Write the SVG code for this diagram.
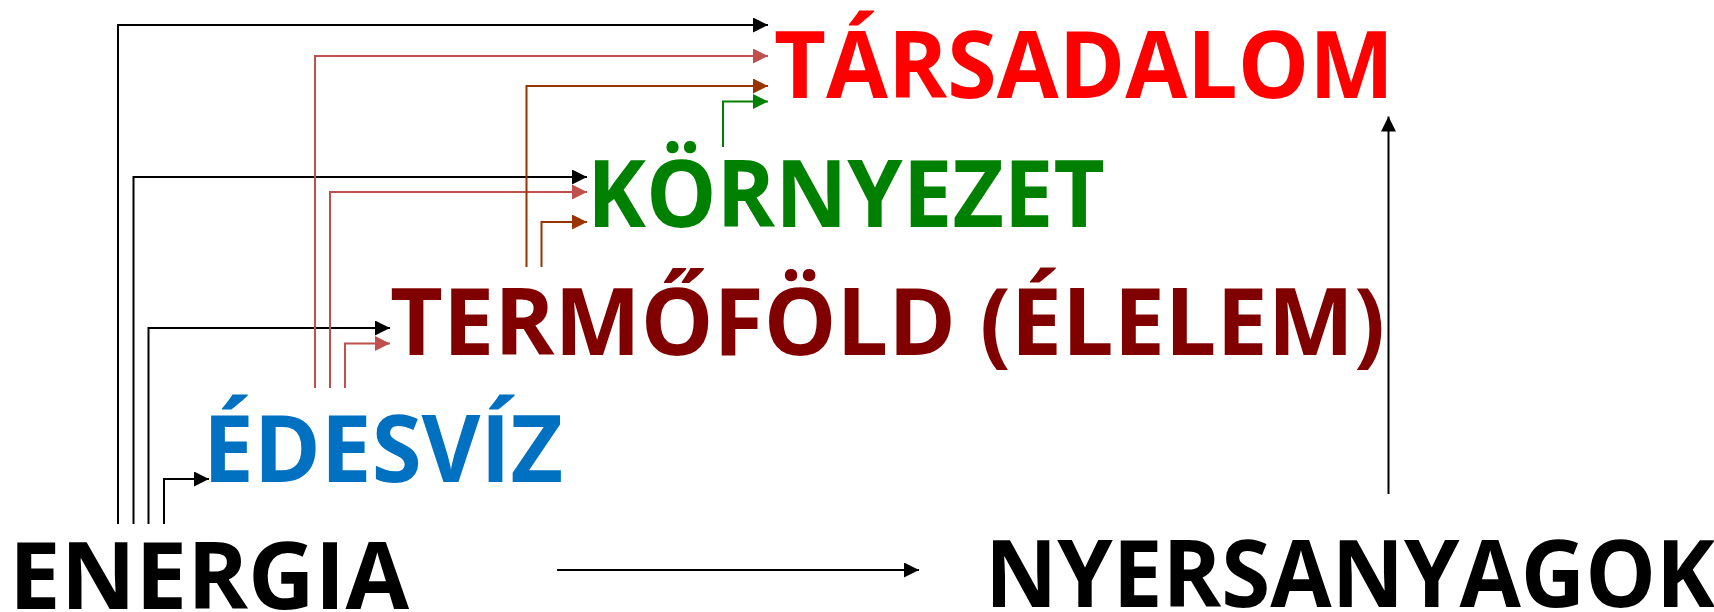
<svg xmlns="http://www.w3.org/2000/svg" width="1714" height="612" viewBox="0 0 1714 612">
  <style>
    .lbl { font-family: "Open Sans", "Noto Sans", "Liberation Sans", sans-serif; font-weight: 700; font-size: 94px; }
    .c { fill: none; stroke-width: 2; }
    .k { stroke: #000000; }
    .p { stroke: #C0504D; }
    .b { stroke: #993300; }
    .g { stroke: #008000; }
  </style>
  <defs>
    <marker id="ak" markerUnits="userSpaceOnUse" markerWidth="15" markerHeight="15" refX="15" refY="7.5" orient="auto"><path d="M0,0 L15,7.5 L0,15 Z" fill="#000000"/></marker>
    <marker id="ap" markerUnits="userSpaceOnUse" markerWidth="15" markerHeight="15" refX="15" refY="7.5" orient="auto"><path d="M0,0 L15,7.5 L0,15 Z" fill="#C0504D"/></marker>
    <marker id="ab" markerUnits="userSpaceOnUse" markerWidth="15" markerHeight="15" refX="15" refY="7.5" orient="auto"><path d="M0,0 L15,7.5 L0,15 Z" fill="#993300"/></marker>
    <marker id="ag" markerUnits="userSpaceOnUse" markerWidth="15" markerHeight="15" refX="15" refY="7.5" orient="auto"><path d="M0,0 L15,7.5 L0,15 Z" fill="#008000"/></marker>
  </defs>
  <rect width="1714" height="612" fill="#ffffff"/>
  <g id="connectors">
    <path class="c k" d="M118,524 V25 H768" marker-end="url(#ak)"/>
    <path class="c k" d="M133.5,524 V177 H587" marker-end="url(#ak)"/>
    <path class="c k" d="M148.5,524 V328 H390" marker-end="url(#ak)"/>
    <path class="c k" d="M164,524 V479 H209" marker-end="url(#ak)"/>
    <path class="c p" d="M315,388 V56 H768" marker-end="url(#ap)"/>
    <path class="c p" d="M330,388 V192 H587" marker-end="url(#ap)"/>
    <path class="c p" d="M345,388 V343.5 H390" marker-end="url(#ap)"/>
    <path class="c b" d="M526.5,267 V86 H768" marker-end="url(#ab)"/>
    <path class="c b" d="M541.5,267 V222 H587" marker-end="url(#ab)"/>
    <path class="c g" d="M723,147 V101.5 H768" marker-end="url(#ag)"/>
    <path class="c k" d="M557,570 H919" marker-end="url(#ak)"/>
    <path class="c k" d="M1388.5,494 V116.5" marker-end="url(#ak)"/>
  </g>
  <g id="tarsadalom"><text class="lbl" x="774" y="98" textLength="620" lengthAdjust="spacingAndGlyphs" fill="#FF0000">TÁRSADALOM</text></g>
  <g id="kornyezet"><text class="lbl" x="587" y="227" textLength="518" lengthAdjust="spacingAndGlyphs" fill="#008000">KÖRNYEZET</text></g>
  <g id="termofold"><text class="lbl" x="390" y="355" textLength="995" lengthAdjust="spacingAndGlyphs" fill="#800000">TERMŐFÖLD (ÉLELEM)</text></g>
  <g id="edesviz"><text class="lbl" x="203" y="482" textLength="360" lengthAdjust="spacingAndGlyphs" fill="#0070C0">ÉDESVÍZ</text></g>
  <g id="energia"><text class="lbl" x="9" y="609" textLength="400" lengthAdjust="spacingAndGlyphs" fill="#000000">ENERGIA</text></g>
  <g id="nyersanyagok"><text class="lbl" x="985" y="607" textLength="730" lengthAdjust="spacingAndGlyphs" fill="#000000">NYERSANYAGOK</text></g>
</svg>
